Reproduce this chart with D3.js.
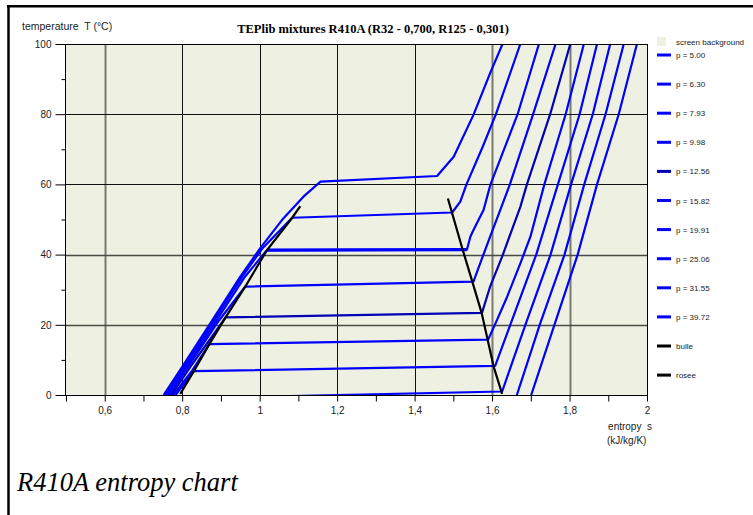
<!DOCTYPE html>
<html><head><meta charset="utf-8">
<script src="https://cdn.jsdelivr.net/npm/d3@7"></script>
<style>body{margin:0;background:#fff}svg{display:block}</style>
</head><body><svg id="c" width="753" height="515"></svg>
<script>
// ---------------- data ----------------
const pressures = ["5.00","6.30","7.93","9.98","12.56","15.82","19.91","25.06","31.55","39.72"];
// isobars: [entropy s, temperature T] (liquid -> bubble -> dew -> vapour)
const iso_5_00  = [[1.701,0],[1.761,20],[1.821,40],[1.871,60],[1.927,80],[1.974,100]];
const iso_6_30  = [[1.664,0],[1.723,20],[1.787,40],[1.838,60],[1.893,80],[1.940,100]];
const iso_7_93  = [[0.795,-1.0],[1.626,1.0],[1.686,20],[1.751,40],[1.804,60],[1.860,80],[1.905,100]];
const iso_9_98  = [[0.783,0],[0.830,6.8],[1.608,8.3],[1.647,20],[1.714,40],[1.770,60],[1.826,80],[1.871,100]];
const iso_12_56 = [[0.777,0],[0.826,7],[0.870,14.5],[1.590,15.8],[1.608,20.2],[1.639,28],[1.673,37.5],[1.699,45.1],[1.735,60],[1.790,80],[1.837,100]];
const iso_15_82 = [[0.772,0],[0.821,8],[0.912,22.1],[1.574,23.4],[1.595,30.9],[1.626,39.4],[1.651,47],[1.673,53.6],[1.690,60],[1.750,80],[1.802,100]];
const iso_19_91 = [[0.767,0],[0.815,8],[0.890,20.5],[0.963,30.9],[1.552,32.3],[1.574,38.9],[1.595,45.1],[1.621,52.7],[1.646,60],[1.706,80],[1.764,100]];
const iso_25_06 = [[0.762,0],[0.810,8],[0.884,20.5],[0.962,33.7],[1.019,41.3],[1.535,41.4],[1.544,45.1],[1.552,47],[1.578,52.7],[1.596,60],[1.666,80],[1.721,100]];
const iso_31_55 = [[0.757,0],[0.805,8],[0.878,20.5],[0.955,33.7],[1.008,41.9],[1.084,50.5],[1.497,52.0],[1.518,55.1],[1.534,60],[1.575,70.5],[1.610,80],[1.673,100]];
const iso_39_72 = [[0.752,0],[0.800,8],[0.873,20.5],[0.950,33.7],[1.002,41.9],[1.058,49.9],[1.113,56.5],[1.157,60.8],[1.458,62.4],[1.501,67.9],[1.552,79.8],[1.595,91.7],[1.627,100]];
// two-phase segment of the 25.06 isobar (drawn heavier in the original)
const twoPhase_25_06 = [[1.019,41.3],[1.535,41.4]];
// saturation curves
const bulle = [[0.795,0.3],[0.830,6.8],[0.870,14.5],[0.912,22.1],[0.963,30.9],[1.019,41.3],[1.084,50.5],[1.105,53.8]];
const rosee = [[1.486,56.0],[1.523,41.8],[1.549,32.3],[1.573,23.4],[1.604,8.1],[1.626,0.3]];

const xTicks  = [0.5,0.6,0.7,0.8,0.9,1.0,1.1,1.2,1.3,1.4,1.5,1.6,1.7,1.8,1.9,2.0];
const xLabels = ["","0,6","","0,8","","1","","1,2","","1,4","","1,6","","1,8","","2"];
const yTicks  = [0,10,20,30,40,50,60,70,80,90,100];
const yLabels = ["0","","20","","40","","60","","80","","100"];
const xGrid = [0.6,0.8,1.0,1.2,1.4,1.6,1.8];
const yGrid = [20,40,60,80];

const isobars = [iso_5_00,iso_6_30,iso_7_93,iso_9_98,iso_12_56,iso_15_82,iso_19_91,iso_25_06,iso_31_55,iso_39_72];
const curveColors  = ["#0000ff","#0000ff","#0000ff","#0000ff","#0000ff","#0000b4","#0000ff","#0000ff","#0000ff","#0000ff"];
const legendColors = ["#0000ff","#0000ff","#0000ff","#0000ff","#0000b4","#0000ff","#0000ff","#0000ff","#0000ff","#0000ff"];

// ---------------- drawing ----------------
const svg = d3.select("#c");
const W = 753, H = 515;
const L = 66, R = 647, T = 44, B = 395;
const x = d3.scaleLinear().domain([0.5, 2]).range([L, R]);
const y = d3.scaleLinear().domain([0, 100]).range([B, T]);
const bg = "#eef1e2";
const sans = "'Liberation Sans', Arial, sans-serif";
const serif = "'Liberation Serif', 'Times New Roman', serif";

svg.append("rect").attr("width", W).attr("height", H).attr("fill", "#fff");
// page frame (left + top)
svg.append("line").attr("x1", 8.5).attr("x2", 8.5).attr("y1", 5).attr("y2", H).attr("stroke", "#000").attr("stroke-width", 2.5);
svg.append("line").attr("x1", 7).attr("x2", W).attr("y1", 6.2).attr("y2", 6.2).attr("stroke", "#000").attr("stroke-width", 2.5);

// plot background
svg.append("rect").attr("x", L).attr("y", T).attr("width", R - L).attr("height", B - T).attr("fill", bg);

// grid
const g = svg.append("g");
xGrid.forEach(v => {
  const grey = (v === 0.6 || v === 1.6 || v === 1.8);
  g.append("line").attr("x1", Math.round(x(v)) + 0.5).attr("x2", Math.round(x(v)) + 0.5)
    .attr("y1", T).attr("y2", B)
    .attr("stroke", grey ? "#7a7a72" : "#111").attr("stroke-width", grey ? 2 : 1);
});
yGrid.forEach(v => {
  const grey = (v === 20 || v === 40);
  g.append("line").attr("x1", L).attr("x2", R)
    .attr("y1", Math.round(y(v)) + 0.5).attr("y2", Math.round(y(v)) + 0.5)
    .attr("stroke", grey ? "#4a4a44" : "#111").attr("stroke-width", grey ? 1.5 : 1);
});

// clip
svg.append("clipPath").attr("id", "clip").append("rect")
  .attr("x", L).attr("y", T).attr("width", R - L).attr("height", B - T);
const plot = svg.append("g").attr("clip-path", "url(#clip)");
const line = d3.line().x(d => x(d[0])).y(d => y(d[1]));

isobars.forEach((pts, i) => {
  plot.append("path").attr("d", line(pts)).attr("fill", "none")
    .attr("stroke", curveColors[i]).attr("stroke-width", 2.2).attr("stroke-linejoin", "round");
});
plot.append("path").attr("d", line(twoPhase_25_06)).attr("fill", "none")
  .attr("stroke", "#0000ff").attr("stroke-width", 3.2);
plot.append("path").attr("d", line(bulle)).attr("fill", "none").attr("stroke", "#000").attr("stroke-width", 2.2);
plot.append("path").attr("d", line(rosee)).attr("fill", "none").attr("stroke", "#000").attr("stroke-width", 2.2);

// plot frame (top and right)
svg.append("line").attr("x1", L).attr("x2", R + 0.5).attr("y1", T + 0.5).attr("y2", T + 0.5).attr("stroke", "#000");
svg.append("line").attr("x1", R + 0.5).attr("x2", R + 0.5).attr("y1", T).attr("y2", B).attr("stroke", "#000");

// axes
const xAxis = d3.axisBottom(x).tickValues(xTicks).tickFormat((d, i) => xLabels[i]).tickSize(6).tickSizeOuter(0);
const gx = svg.append("g").attr("transform", `translate(0,${B + 0.5})`).call(xAxis);
gx.select(".domain").attr("stroke", "#000").attr("d", `M${L},0H${R + 1}`);
gx.selectAll(".tick line").attr("stroke", "#000");
gx.selectAll(".tick text").attr("font-family", sans).attr("font-size", 10).attr("fill", "#222").attr("dy", "0.95em");

const yAxis = d3.axisLeft(y).tickValues(yTicks).tickFormat((d, i) => yLabels[i]).tickSizeOuter(0);
const gy = svg.append("g").attr("transform", `translate(${L - 0.5},0)`).call(yAxis);
gy.select(".domain").attr("stroke", "#000").attr("d", `M0,${T}V${B + 1}`);
gy.selectAll(".tick line").attr("stroke", "#000").attr("x2", (d, i) => (i % 2 === 0 ? -10 : -4));
gy.selectAll(".tick text").attr("font-family", sans).attr("font-size", 10).attr("fill", "#222").attr("x", -14);

// titles
svg.append("text").attr("x", 373).attr("y", 33).attr("text-anchor", "middle")
  .attr("font-family", serif).attr("font-weight", "bold").attr("font-size", 12.5)
  .text("TEPlib mixtures R410A (R32 - 0,700, R125 - 0,301)");
svg.append("text").attr("x", 22).attr("y", 30).attr("font-family", sans).attr("font-size", 10.5).attr("fill", "#222")
  .style("white-space", "pre").text("temperature  T (°C)");
svg.append("text").attr("x", 652).attr("y", 430).attr("text-anchor", "end").attr("font-family", sans).attr("font-size", 10).attr("fill", "#222")
  .style("white-space", "pre").text("entropy  s");
svg.append("text").attr("x", 607).attr("y", 444).attr("font-family", sans).attr("font-size", 10).attr("fill", "#222")
  .text("(kJ/kg/K)");
svg.append("text").attr("x", 17).attr("y", 491).attr("font-family", serif).attr("font-style", "italic").attr("font-size", 26.5)
  .text("R410A entropy chart");

// legend
const lg = svg.append("g").attr("font-family", sans).attr("font-size", 8).attr("fill", "#222");
lg.append("rect").attr("x", 657).attr("y", 37).attr("width", 9).attr("height", 9).attr("fill", bg);
lg.append("text").attr("x", 676).attr("y", 45).text("screen background");
const legendItems = pressures.map((p, i) => ({label: "p = " + p, color: legendColors[i]}))
  .concat([{label: "bulle", color: "#000"}, {label: "rosee", color: "#000"}]);
legendItems.forEach((d, i) => {
  const yy = 55 + i * 29.1;
  lg.append("line").attr("x1", 657).attr("x2", 671).attr("y1", yy).attr("y2", yy)
    .attr("stroke", d.color).attr("stroke-width", 3);
  lg.append("text").attr("x", 676).attr("y", yy + 3).text(d.label);
});
</script></body></html>
